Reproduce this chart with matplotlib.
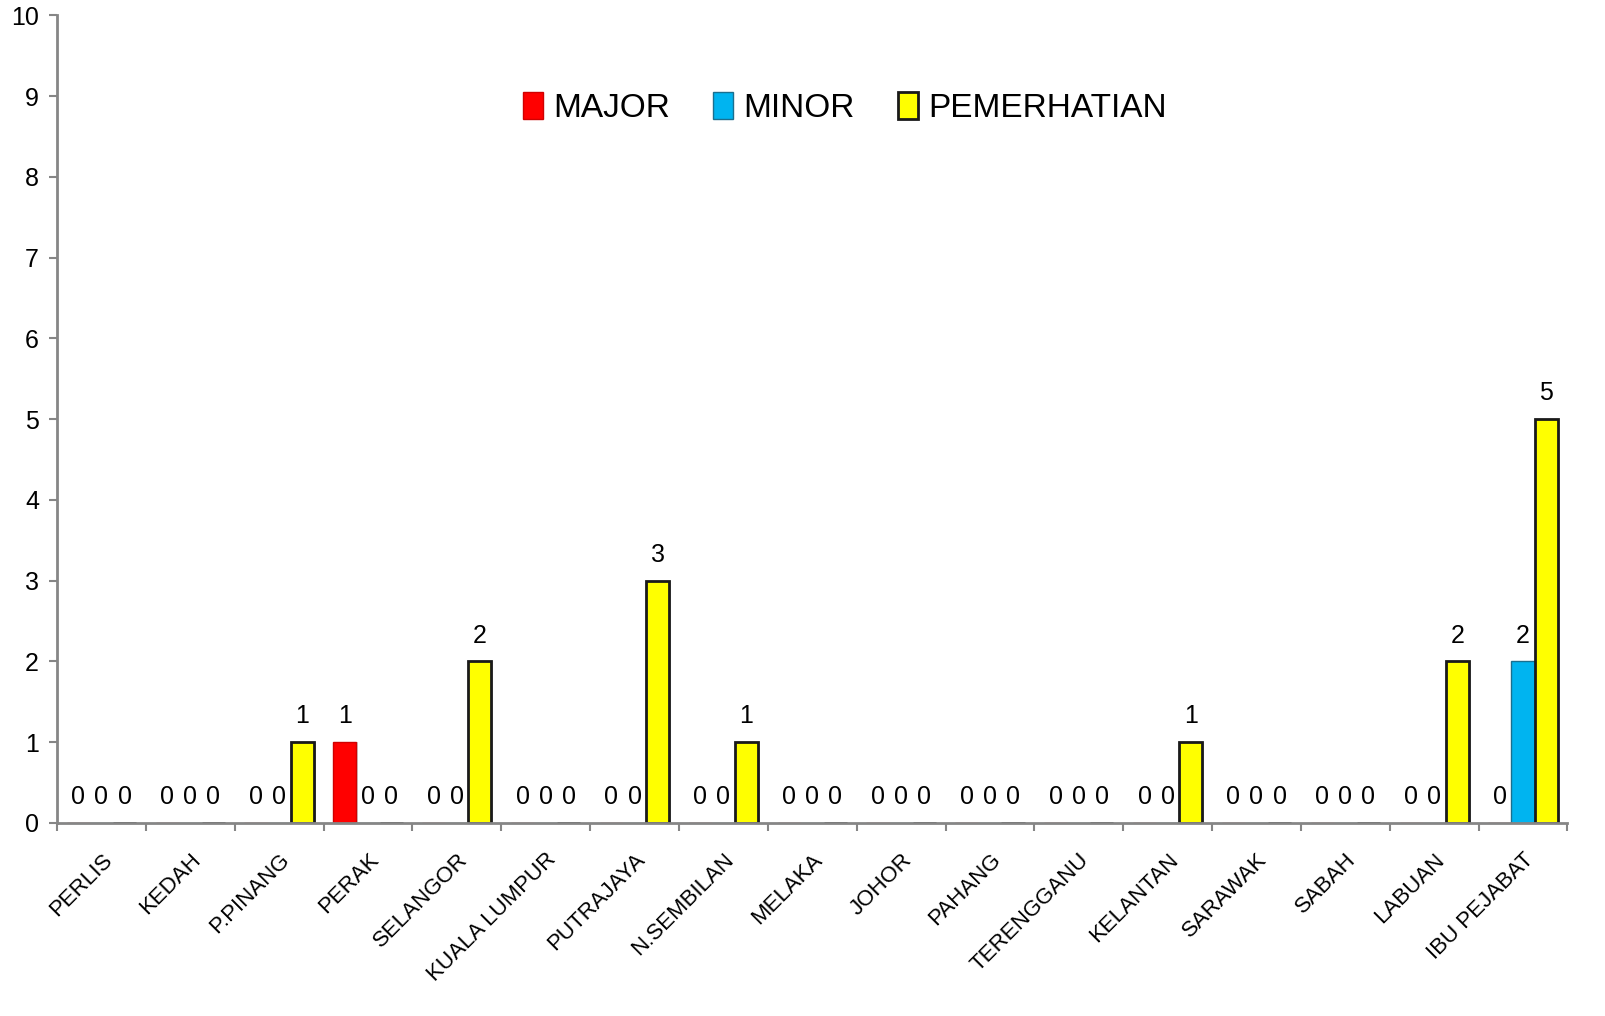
import matplotlib
matplotlib.use('Agg')

import numpy as np
import matplotlib.pyplot as plt

plt.rcParams['font.family'] = ['Liberation Sans Narrow', 'Liberation Sans', 'DejaVu Sans']

categories = ['PERLIS', 'KEDAH', 'P.PINANG', 'PERAK', 'SELANGOR', 'KUALA LUMPUR',
              'PUTRAJAYA', 'N.SEMBILAN', 'MELAKA', 'JOHOR', 'PAHANG', 'TERENGGANU',
              'KELANTAN', 'SARAWAK', 'SABAH', 'LABUAN', 'IBU PEJABAT']
major = [0, 0, 0, 1, 0, 0, 0, 0, 0, 0, 0, 0, 0, 0, 0, 0, 0]
minor = [0, 0, 0, 0, 0, 0, 0, 0, 0, 0, 0, 0, 0, 0, 0, 0, 2]
pemerhatian = [0, 0, 1, 0, 2, 0, 3, 1, 0, 0, 0, 0, 1, 0, 0, 2, 5]
series_names = ['MAJOR', 'MINOR', 'PEMERHATIAN']

fig = plt.figure(figsize=(16.06, 10.16), dpi=100)
ax = fig.add_axes([0.0355, 0.19, 0.9405, 0.795])

x = np.arange(len(categories))
w = 0.26
styles = [
    dict(color='#FF0000', edgecolor='#D00000', linewidth=1.0),
    dict(color='#00B4F0', edgecolor='#1A6F8F', linewidth=1.0),
    dict(color='#FFFF00', edgecolor='#1A1A1A', linewidth=2.0),
]
for i, (vals, name, st) in enumerate(zip([major, minor, pemerhatian], series_names, styles)):
    pos = x + (i - 1) * w
    # soft shadow like the original
    ax.bar(pos + 0.02, vals, w, color='#CFCFCF', zorder=1)
    ax.bar(pos, vals, w, label=name, zorder=2, **st)
    for p, v in zip(pos, vals):
        ax.annotate(str(v), (p, v), xytext=(0, 10), textcoords='offset points',
                    ha='center', va='bottom', fontsize=18)

ax.set_xlim(-0.5, len(categories) - 0.5)
ax.set_ylim(0, 10)
ax.set_yticks(range(0, 11))
ax.tick_params(axis='y', labelsize=18, length=6, width=1.5, color='#868686', pad=7)

ax.set_xticks(x)
ax.set_xticklabels(categories, rotation=45, ha='right', rotation_mode='anchor', fontsize=16)
ax.tick_params(axis='x', which='major', length=0, pad=19)
ax.set_xticks(np.arange(-0.5, len(categories)), minor=True)
ax.tick_params(axis='x', which='minor', length=6, width=1.5, color='#868686')

for s in ['top', 'right']:
    ax.spines[s].set_visible(False)
for s in ['left', 'bottom']:
    ax.spines[s].set_color('#868686')
    ax.spines[s].set_linewidth(2)

ax.legend(loc='center', bbox_to_anchor=(845 / 1606, 1 - 108 / 1016),
          bbox_transform=fig.transFigure, ncol=3, frameon=False,
          fontsize=24, handlelength=0.6, handleheight=0.85, handletextpad=0.3,
          columnspacing=1.3)

plt.savefig('out.png', dpi=100)
